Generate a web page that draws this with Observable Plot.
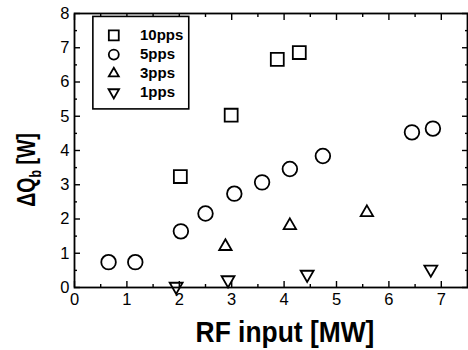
<!DOCTYPE html>
<html><head><meta charset="utf-8">
<script src="https://cdn.jsdelivr.net/npm/d3@7"></script>
<script src="https://cdn.jsdelivr.net/npm/@observablehq/plot@0.6"></script>
<style>body{margin:0;background:#fff;font-family:"Liberation Sans",Arial,sans-serif}</style>
</head><body><div id="chart"></div>
<script>
const series = ["10pps","5pps","3pps","1pps"];
const x10 = [2.02, 2.99, 3.87, 4.29];
const y10 = [3.24, 5.03, 6.66, 6.86];
const x5 = [0.65, 1.16, 2.03, 2.5, 3.05, 3.58, 4.11, 4.74, 6.44, 6.84];
const y5 = [0.74, 0.74, 1.64, 2.16, 2.74, 3.07, 3.46, 3.84, 4.53, 4.64];
const x3 = [2.88, 4.11, 5.58];
const y3 = [1.2, 1.81, 2.19];
const x1 = [1.94, 2.93, 4.44, 6.8];
const y1 = [0.03, 0.22, 0.38, 0.53];
const xTicks = [0,1,2,3,4,5,6,7];
const yTicks = [0,1,2,3,4,5,6,7,8];

const invTriangle = {draw(ctx, size){ const s = Math.sqrt(size/(Math.sqrt(3)/4)); const h = s*Math.sqrt(3)/2; ctx.moveTo(-s/2,-h/3); ctx.lineTo(s/2,-h/3); ctx.lineTo(0,2*h/3); ctx.closePath(); }};
const symOf = {"10pps":"square","5pps":"circle","3pps":"triangle","1pps":invTriangle};
const rOf = {"10pps":7.3,"5pps":7.3,"3pps":4.6,"1pps":4.8};
const rLeg = {"10pps":5.6,"5pps":5,"3pps":3.7,"1pps":3.9};

const rows = [];
[[x10,y10,"10pps"],[x5,y5,"5pps"],[x3,y3,"3pps"],[x1,y1,"1pps"]].forEach(([xs,ys,s])=>xs.forEach((x,i)=>rows.push({x,y:ys[i],s})));

const half = d3.range(0.5,7.5,1);
const halfY = d3.range(0.5,8,1);
// legend placement in data units
const legX = 0.75, legTX = 1.25;
const legY = [7.36, 6.8, 6.25, 5.7];
const leg = series.map((s,i)=>({s, y:legY[i]}));

const chart = Plot.plot({
  width:468, height:350,
  marginLeft:74, marginRight:1, marginTop:13, marginBottom:63,
  style:{fontFamily:"Liberation Sans, Arial, sans-serif", fontSize:"16px", color:"#000"},
  x:{domain:[0,7.5], label:null},
  y:{domain:[0,8], label:null},
  symbol:{type:"identity"},
  marks:[
    Plot.frame({stroke:"#000", strokeWidth:1.8}),
    Plot.axisX({ticks:xTicks, tickSize:-6, tickPadding:12, tickFormat:d3.format("d"), fontSize:16.5, strokeWidth:1.4}),
    Plot.axisX({ticks:half, tickSize:-3, text:null, strokeWidth:1.4}),
    Plot.axisX({anchor:"top", ticks:xTicks, tickSize:-6, text:null, strokeWidth:1.4}),
    Plot.axisX({anchor:"top", ticks:half, tickSize:-3, text:null, strokeWidth:1.4}),
    Plot.axisY({ticks:yTicks, tickSize:-6, tickPadding:11, tickFormat:d3.format("d"), fontSize:16.5, strokeWidth:1.4}),
    Plot.axisY({ticks:halfY, tickSize:-3, text:null, strokeWidth:1.4}),
    Plot.axisY({anchor:"right", ticks:yTicks, tickSize:-6, text:null, strokeWidth:1.4}),
    Plot.axisY({anchor:"right", ticks:halfY, tickSize:-3, text:null, strokeWidth:1.4}),
    Plot.rect([0], {x1:0.36, x2:2.19, y1:5.2, y2:7.9, stroke:"#000", strokeWidth:1.6, fill:"#fff"}),
    ...series.map(s => Plot.dot(rows.filter(d=>d.s===s), {x:"x", y:"y", symbol:()=>symOf[s], r:rOf[s], stroke:"#000", strokeWidth:1.8, fill:"none"})),
    ...series.map(s => Plot.dot(leg.filter(d=>d.s===s), {x:()=>legX, y:"y", symbol:()=>symOf[s], r:rLeg[s], stroke:"#000", strokeWidth:1.8, fill:"none"})),
    Plot.text(leg, {x:()=>legTX, y:"y", text:"s", textAnchor:"start", fontSize:15, fontWeight:"bold", fill:"#000", style:{letterSpacing:"1.2px"}})
  ]
});
document.getElementById("chart").appendChild(chart);
const svg = d3.select(chart);
svg.append("text").attr("transform","translate(285,342) scale(0.88,1)").attr("text-anchor","middle")
  .attr("font-size",30).attr("font-weight","bold").attr("font-family","Liberation Sans, Arial, sans-serif").attr("fill","#000").text("RF input [MW]");
const yl = svg.append("text").attr("transform","translate(35,170) rotate(-90) scale(0.78,1)").attr("text-anchor","middle")
  .attr("font-size",25).attr("font-weight","bold").attr("font-family","Liberation Sans, Arial, sans-serif").attr("fill","#000");
yl.append("tspan").text("ΔQ");
yl.append("tspan").attr("font-size",16).attr("dy",6).text("b");
yl.append("tspan").attr("dy",-6).text(" [W]");
</script></body></html>
